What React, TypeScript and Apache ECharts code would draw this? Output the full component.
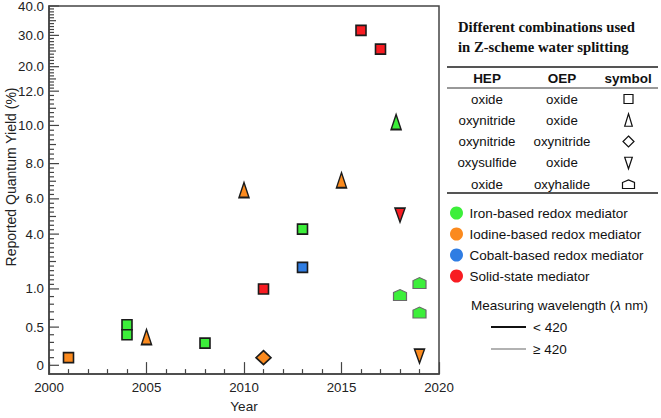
import React, { useEffect, useRef } from "react";
import * as echarts from "echarts";

// ---- data ----
const years = [2001, 2004, 2004, 2005, 2008, 2010, 2011, 2011, 2013, 2013, 2015, 2016, 2017, 2017.8, 2018, 2018, 2019, 2019, 2019];
const yields = [0.1, 0.53, 0.4, 0.37, 0.29, 6.5, 0.1, 1.0, 4.28, 2.18, 7.06, 31.7, 25.6, 10.2, 5.08, 0.92, 1.32, 0.69, 0.12];
const mediators = ["Iodine", "Iron", "Iron", "Iodine", "Iron", "Iodine", "Iodine", "Solid", "Iron", "Cobalt", "Iodine", "Solid", "Solid", "Iron", "Solid", "Iron", "Iron", "Iron", "Iodine"];
const combos = ["square", "square", "square", "triangle", "square", "triangle", "diamond", "square", "square", "square", "triangle", "square", "square", "triangle", "invTriangle", "pentagon", "pentagon", "pentagon", "invTriangle"];
const wavelengths = ["<420", "<420", "<420", "<420", "<420", "<420", "<420", "<420", "<420", "<420", "<420", "<420", "<420", "<420", "<420", ">=420", ">=420", ">=420", "<420"];

const mediatorKeys = ["Iron", "Iodine", "Cobalt", "Solid"];
const mediatorNames = ["Iron-based redox mediator", "Iodine-based redox mediator", "Cobalt-based redox mediator", "Solid-state mediator"];

const yTickValues = [0, 0.5, 1, 4, 6, 8, 10, 12, 20, 30, 40];
const yTickLabels = ["0", "0.5", "1.0", "4.0", "6.0", "8.0", "10.0", "12.0", "20.0", "30.0", "40.0"];

const hepNames = ["oxide", "oxynitride", "oxynitride", "oxysulfide", "oxide"];
const oepNames = ["oxide", "oxide", "oxynitride", "oxide", "oxyhalide"];
const comboOrder = ["square", "triangle", "diamond", "invTriangle", "pentagon"];

// ---- scale definition of the (non-uniform) y axis, in axis units ----
const yAxisStops = [9, 48, 87, 143, 179, 215, 254, 289, 314, 346, 376];
const yMinorSteps = [5, 5, 12, 8, 8, 8, 8, 8, 10, 10];

// ---- styles ----
const mediatorColors: Record<string, string> = { Iron: "#3cef3a", Iodine: "#fb8a1e", Cobalt: "#2f7de3", Solid: "#f81c22" };
const FONT = '"Liberation Sans", Arial, sans-serif';
const SERIF = '"Liberation Serif", "Times New Roman", serif';

function toAxis(v: number): number {
  for (let i = 0; i < yTickValues.length - 1; i++) {
    if (v <= yTickValues[i + 1]) {
      const t = (v - yTickValues[i]) / (yTickValues[i + 1] - yTickValues[i]);
      return yAxisStops[i] + t * (yAxisStops[i + 1] - yAxisStops[i]);
    }
  }
  return yAxisStops[yAxisStops.length - 1];
}

const symbolDefs: Record<string, { symbol: string; size: number[] }> = {
  square: { symbol: "rect", size: [10, 10] },
  triangle: { symbol: "triangle", size: [10, 15] },
  diamond: { symbol: "diamond", size: [15, 14] },
  invTriangle: { symbol: "path://M0,0L10,0L5,15Z", size: [10, 14] },
  pentagon: { symbol: "path://M0,3L6.5,0L13,3L13,11L0,11Z", size: [13, 11] },
};

export default function App() {
  const ref = useRef<HTMLDivElement>(null);
  useEffect(() => {
    if (!ref.current) return;
    const chart = echarts.init(ref.current, undefined, { renderer: "svg" });

    // y tick marks
    const tickData: number[][] = [];
    const tickText: string[] = [];
    for (let i = 0; i < yAxisStops.length; i++) {
      tickData.push([2000, yAxisStops[i], 2]);
      tickText.push(yTickLabels[i]);
      if (i < yMinorSteps.length) {
        const n = yMinorSteps[i];
        for (let j = 1; j < n; j++) {
          const u = yAxisStops[i] + (j * (yAxisStops[i + 1] - yAxisStops[i])) / n;
          tickData.push([2000, u, n % 2 === 0 && j === n / 2 ? 1 : 0]);
          tickText.push("");
        }
      }
    }

    const scatterSeries = mediatorKeys.map((key, mi) => {
      const data: any[] = [];
      years.forEach((yr, i) => {
        if (mediators[i] !== key) return;
        const def = symbolDefs[combos[i]];
        const thick = wavelengths[i] === "<420";
        data.push({
          value: [yr, toAxis(yields[i])],
          symbol: def.symbol,
          symbolSize: def.size,
          itemStyle: {
            borderColor: thick ? "#1b1b1b" : "#6a6a6a",
            borderWidth: thick ? 1.6 : 1.1,
          },
        });
      });
      return {
        type: "scatter",
        name: mediatorNames[mi],
        data,
        z: 3,
        itemStyle: { color: mediatorColors[key], opacity: 1 },
      };
    });

    const graphics: any[] = [];
    const txt = (x: number, y: number, text: string, font: string, align = "left", fill = "#111") => ({
      type: "text",
      x,
      y,
      silent: true,
      style: { text, font, fill, textAlign: align, align, textVerticalAlign: "middle", verticalAlign: "middle" },
    });
    graphics.push({
      type: "text",
      x: 11,
      y: 177,
      rotation: Math.PI / 2,
      silent: true,
      style: { text: "Reported Quantum Yield (%)", font: `14px ${FONT}`, fill: "#222", textAlign: "center", align: "center", textVerticalAlign: "middle", verticalAlign: "middle" },
    });
    graphics.push(txt(458, 27, "Different combinations used", `bold 14.7px ${SERIF}`));
    graphics.push(txt(458, 47, "in Z-scheme water splitting", `bold 14.7px ${SERIF}`));
    graphics.push({ type: "line", silent: true, shape: { x1: 447, y1: 67, x2: 658, y2: 67 }, style: { stroke: "#555", lineWidth: 2 } });
    graphics.push({ type: "line", silent: true, shape: { x1: 447, y1: 88, x2: 658, y2: 88 }, style: { stroke: "#333", lineWidth: 1 } });
    graphics.push({ type: "line", silent: true, shape: { x1: 447, y1: 193, x2: 658, y2: 193 }, style: { stroke: "#555", lineWidth: 2 } });
    graphics.push(txt(487, 78, "HEP", `bold 13.5px ${FONT}`, "center"));
    graphics.push(txt(562, 78, "OEP", `bold 13.5px ${FONT}`, "center"));
    graphics.push(txt(628, 78, "symbol", `bold 13.5px ${FONT}`, "center"));
    const outline = { fill: "none", stroke: "#111", lineWidth: 1.2 };
    comboOrder.forEach((c, r) => {
      const y = 99 + r * 21.25;
      graphics.push(txt(487, y, hepNames[r], `13.3px ${FONT}`, "center"));
      graphics.push(txt(562, y, oepNames[r], `13.3px ${FONT}`, "center"));
      const cx = 628.5;
      let pts: number[][] = [];
      if (c === "square") pts = [[-4.5, -4.5], [4.5, -4.5], [4.5, 4.5], [-4.5, 4.5]];
      if (c === "triangle") pts = [[0, -6.5], [3.8, 6], [-3.8, 6]];
      if (c === "diamond") pts = [[0, -5.5], [5.5, 0], [0, 5.5], [-5.5, 0]];
      if (c === "invTriangle") pts = [[-3.8, -5.5], [3.8, -5.5], [0, 6]];
      if (c === "pentagon") pts = [[-6, -1.5], [0, -4], [6, -1.5], [6, 4.5], [-6, 4.5]];
      graphics.push({ type: "polygon", silent: true, x: cx, y, shape: { points: pts }, style: outline });
    });
    graphics.push({
      type: "text",
      x: 471,
      y: 305,
      silent: true,
      style: {
        text: "{a|Measuring wavelength (}{i|λ}{a| nm)}",
        textVerticalAlign: "middle",
        verticalAlign: "middle",
        rich: {
          a: { font: `13.5px ${FONT}`, fill: "#111", color: "#111" },
          i: { font: `italic 13.5px ${FONT}`, fill: "#111", color: "#111" },
        },
      },
    });
    graphics.push({ type: "line", silent: true, shape: { x1: 491, y1: 327, x2: 526, y2: 327 }, style: { stroke: "#111", lineWidth: 2.2 } });
    graphics.push({ type: "line", silent: true, shape: { x1: 491, y1: 349, x2: 526, y2: 349 }, style: { stroke: "#666", lineWidth: 1.1 } });
    graphics.push(txt(533, 327, "< 420", `13.5px ${FONT}`));
    graphics.push(txt(533, 349, "≥ 420", `13.5px ${FONT}`));

    chart.setOption({
      animation: false,
      backgroundColor: "#ffffff",
      grid: { left: 49, right: 222, top: 6, bottom: 36, show: true, borderColor: "#444", borderWidth: 1.5 },
      xAxis: {
        type: "value",
        min: 2000,
        max: 2020,
        interval: 5,
        name: "Year",
        nameLocation: "middle",
        nameGap: 24,
        nameTextStyle: { fontSize: 13.5, fontFamily: FONT, color: "#222" },
        axisLine: { show: true, lineStyle: { color: "#444", width: 1.5 } },
        axisTick: { show: true, inside: true, length: 12, lineStyle: { color: "#444", width: 1.2 } },
        minorTick: { show: true, splitNumber: 5, length: 5, lineStyle: { color: "#444", width: 1.2 } },
        axisLabel: { fontSize: 13.3, fontFamily: FONT, color: "#222", margin: 7, formatter: (v: number) => String(v) },
        splitLine: { show: false },
      },
      yAxis: {
        type: "value",
        min: 0,
        max: 376,
        axisLine: { show: true, lineStyle: { color: "#444", width: 1.5 } },
        axisTick: { show: false },
        axisLabel: { show: false },
        splitLine: { show: false },
      },
      legend: {
        data: mediatorNames,
        orient: "vertical",
        left: 445,
        top: 201,
        icon: "circle",
        itemWidth: 16,
        itemHeight: 13,
        itemGap: 7,
        selectedMode: false,
        itemStyle: { borderWidth: 0 },
        textStyle: { fontSize: 13.5, fontFamily: FONT, color: "#111" },
      },
      graphic: graphics,
      series: [
        {
          type: "custom",
          coordinateSystem: "cartesian2d",
          silent: true,
          clip: false,
          z: 1,
          data: tickData,
          renderItem: (params: any, api: any) => {
            const p = api.coord([api.value(0), api.value(1)]);
            const kind = api.value(2);
            const len = kind === 2 ? 10 : kind === 1 ? 7 : 5;
            const children: any[] = [
              { type: "line", shape: { x1: p[0], y1: p[1], x2: p[0] + len, y2: p[1] }, style: { stroke: "#444", lineWidth: 1.2 } },
            ];
            const label = tickText[params.dataIndex];
            if (label) {
              children.push({
                type: "text",
                x: p[0] - 5,
                y: p[1],
                style: { text: label, font: `13.3px ${FONT}`, fill: "#222", textAlign: "right", align: "right", textVerticalAlign: "middle", verticalAlign: "middle" },
              });
            }
            return { type: "group", children };
          },
        },
        ...scatterSeries,
      ],
    });
    return () => chart.dispose();
  }, []);
  return <div ref={ref} style={{ position: "fixed", left: 0, top: 0, width: 661, height: 418, background: "#fff" }} />;
}
